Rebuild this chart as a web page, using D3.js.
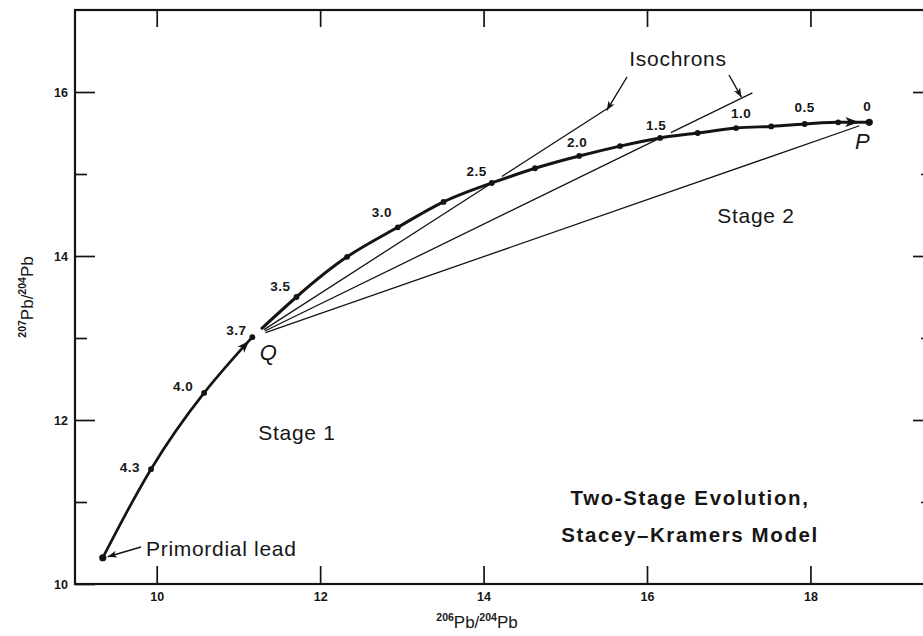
<!DOCTYPE html>
<html>
<head>
<meta charset="utf-8">
<script src="https://cdn.jsdelivr.net/npm/d3@7"></script>
<style>
  body { margin: 0; background: #fff; }
  svg { display: block; }
  text { font-family: "Liberation Sans", Arial, Helvetica, sans-serif; fill: #161616; }
</style>
</head>
<body>
<svg id="chart" width="923" height="636"></svg>
<script>
// Stage 1 growth curve: primordial lead (4.57 Ga) to Q (3.7 Ga)
const stage1Ages  = [4.57, 4.3, 4.0, 3.7];
const stage1Pb206 = [9.34, 9.93, 10.58, 11.17];
const stage1Pb207 = [10.32, 11.40, 12.33, 13.01];

// Stage 2 growth curve: Q (3.7 Ga) to present-day lead P (0 Ga)
const stage2Ages  = [3.7, 3.5, 3.25, 3.0, 2.75, 2.5, 2.25, 2.0, 1.75, 1.5, 1.25, 1.0, 0.75, 0.5, 0.25, 0];
const stage2Pb206 = [11.17, 11.71, 12.33, 12.95, 13.51, 14.10, 14.63, 15.17, 15.67, 16.16, 16.62, 17.09, 17.52, 17.93, 18.34, 18.72];
const stage2Pb207 = [13.01, 13.50, 13.99, 14.35, 14.66, 14.89, 15.07, 15.22, 15.34, 15.44, 15.50, 15.56, 15.58, 15.61, 15.63, 15.63];

// Ages written next to the curve (Ga)
const ageLabels = ["4.3", "4.0", "3.7", "3.5", "3.0", "2.5", "2.0", "1.5", "1.0", "0.5", "0"];

// Isochrons drawn from Q through the curve point of the given age, ending at the given 206Pb/204Pb
const isochronAges   = [2.5, 1.5, 0];
const isochronEnd206 = [15.52, 17.29, 18.60];

// Axis ticks
const xTicks      = [10, 12, 14, 16, 18];
const yTicks      = [10, 12, 14, 16];
const yMinorTicks = [11, 13, 15];

// ---------------------------------------------------------------
const svg = d3.select("#chart");
const ink = "#141414";

const x = d3.scaleLinear().domain([9, 19.5]).range([75, 933]);
const y = d3.scaleLinear().domain([10, 17]).range([584, 10]);

const pts1 = stage1Ages.map((a, i) => ({ age: a, x: stage1Pb206[i], y: stage1Pb207[i] }));
const pts2 = stage2Ages.map((a, i) => ({ age: a, x: stage2Pb206[i], y: stage2Pb207[i] }));
const allPts = pts1.concat(pts2.slice(1));
const findPt = age => allPts.find(p => Math.abs(p.age - age) < 1e-9);
const Q = pts2[0], P = pts2[pts2.length - 1], prim = pts1[0];

// Arrowhead markers
const defs = svg.append("defs");
function arrowMarker(id, len, half, back) {
  defs.append("marker")
    .attr("id", id)
    .attr("markerUnits", "userSpaceOnUse")
    .attr("viewBox", `0 ${-half} ${len} ${2 * half}`)
    .attr("markerWidth", len).attr("markerHeight", 2 * half)
    .attr("refX", len + back).attr("refY", 0)
    .attr("orient", "auto")
    .style("overflow", "visible")
    .append("path")
    .attr("d", `M0,${-half} L${len},0 L0,${half} L${len * 0.25},0 Z`)
    .attr("fill", ink);
}
arrowMarker("headQ", 12, 4.5, 5);
arrowMarker("headP", 14, 5, 10);
arrowMarker("headSmall", 9, 3.5, 0);

// Frame
svg.append("rect")
  .attr("x", x(9)).attr("y", y(17))
  .attr("width", x(19.5) - x(9)).attr("height", y(10) - y(17))
  .attr("fill", "none").attr("stroke", ink).attr("stroke-width", 2.2);

function styleAxis(g) {
  g.select(".domain").remove();
  g.selectAll(".tick line").attr("stroke", ink).attr("stroke-width", 1.7);
  g.selectAll(".tick text")
    .attr("fill", ink)
    .style("font-size", "12.5px").style("font-weight", "bold");
}

// Bottom and top ticks
svg.append("g").attr("transform", `translate(0,${y(10)})`)
  .call(d3.axisBottom(x).tickValues(xTicks).tickSize(-18).tickPadding(8).tickFormat(d3.format("d")))
  .call(styleAxis);
svg.append("g").attr("transform", `translate(0,${y(17)})`)
  .call(d3.axisTop(x).tickValues(xTicks).tickSize(-17).tickFormat(""))
  .call(styleAxis);

// Left and right ticks
svg.append("g").attr("transform", `translate(${x(9)},0)`)
  .call(d3.axisLeft(y).tickValues(yTicks).tickSize(-20).tickPadding(7).tickFormat(d3.format("d")))
  .call(styleAxis);
svg.append("g").attr("transform", `translate(${x(9)},0)`)
  .call(d3.axisLeft(y).tickValues(yMinorTicks).tickSize(-12).tickFormat(""))
  .call(styleAxis);
svg.append("g").attr("transform", `translate(${x(19.5)},0)`)
  .call(d3.axisRight(y).tickValues(yTicks.slice(1)).tickSize(-20).tickFormat(""))
  .call(styleAxis);
svg.append("g").attr("transform", `translate(${x(19.5)},0)`)
  .call(d3.axisRight(y).tickValues(yMinorTicks).tickSize(-12).tickFormat(""))
  .call(styleAxis);

// Axis titles with isotope superscripts
function isoTitle(sel, a, b) {
  sel.append("tspan").text(a).attr("dy", "-7").style("font-size", "10.5px").style("font-weight", "bold");
  sel.append("tspan").text("Pb/").attr("dy", "7").style("font-size", "17px");
  sel.append("tspan").text(b).attr("dy", "-7").style("font-size", "10.5px").style("font-weight", "bold");
  sel.append("tspan").text("Pb").attr("dy", "7").style("font-size", "17px");
}
svg.append("text")
  .attr("x", 477).attr("y", 628).attr("text-anchor", "middle")
  .call(isoTitle, "206", "204");
svg.append("text")
  .attr("transform", `translate(33,${(y(10) + y(17)) / 2}) rotate(-90)`)
  .attr("text-anchor", "middle")
  .call(isoTitle, "207", "204");

// Isochrons
const isoEnds = [];
isochronAges.forEach((age, i) => {
  const A = findPt(age);
  const t = (isochronEnd206[i] - Q.x) / (A.x - Q.x);
  const x0 = x(Q.x), y0 = y(Q.y);
  const x1 = x(Q.x + (A.x - Q.x) * t), y1 = y(Q.y + (A.y - Q.y) * t);
  const dA = Math.hypot(x(A.x) - x0, y(A.y) - y0);
  const startGap = 14;
  const dash = t > 1 ? [0, startGap, dA - startGap + 2, 10, 3000] : [0, startGap, 3000];
  svg.append("line")
    .attr("x1", x0).attr("y1", y0).attr("x2", x1).attr("y2", y1)
    .attr("stroke", ink).attr("stroke-width", 1.3)
    .attr("stroke-dasharray", dash.join(","));
  isoEnds.push({ x: x1, y: y1, slope: (y1 - y0) / (x1 - x0) });
});

// Growth curves
const curve = d3.line().x(d => x(d.x)).y(d => y(d.y)).curve(d3.curveNatural);
svg.append("path")
  .attr("d", curve(pts1))
  .attr("fill", "none").attr("stroke", ink).attr("stroke-width", 2.7)
  .attr("marker-end", "url(#headQ)");
svg.append("path")
  .attr("d", curve(pts2))
  .attr("fill", "none").attr("stroke", ink).attr("stroke-width", 3)
  .attr("stroke-dasharray", "0,12,5000")
  .attr("marker-end", "url(#headP)");

// Age dots
svg.append("g").selectAll("circle")
  .data(allPts)
  .join("circle")
  .attr("cx", d => x(d.x)).attr("cy", d => y(d.y))
  .attr("r", d => (d === Q || d === P || d === prim) ? 3.6 : 2.9)
  .attr("fill", ink);

// Age labels
const labelOffset = {
  "4.3": [-21, 3], "4.0": [-21, -2], "3.7": [-16, -2], "3.5": [-16, -6],
  "3.0": [-16, -10], "2.5": [-15, -7], "2.0": [-2, -9], "1.5": [-4, -8],
  "1.0": [5, -10], "0.5": [0, -12], "0": [-2, -11]
};
svg.append("g").selectAll("text")
  .data(ageLabels)
  .join("text")
  .attr("x", d => x(findPt(+d).x) + labelOffset[d][0])
  .attr("y", d => y(findPt(+d).y) + labelOffset[d][1])
  .attr("text-anchor", "middle")
  .style("font-size", "13.5px").style("font-weight", "bold").style("letter-spacing", "0.5px")
  .text(d => d);

// Point names
svg.append("text").attr("x", x(Q.x) + 16).attr("y", y(Q.y) + 23)
  .attr("text-anchor", "middle").style("font-size", "22px").style("font-style", "italic").text("Q");
svg.append("text").attr("x", x(P.x) - 7).attr("y", y(P.y) + 27)
  .attr("text-anchor", "middle").style("font-size", "22px").style("font-style", "italic").text("P");

// Region and annotation labels
const big = sel => sel.style("font-size", "21px").style("letter-spacing", "0.7px");
svg.append("text").attr("x", 297).attr("y", 440).attr("text-anchor", "middle").call(big).text("Stage 1");
svg.append("text").attr("x", 756).attr("y", 223).attr("text-anchor", "middle").call(big).text("Stage 2");
svg.append("text").attr("x", 146).attr("y", 556).call(big).text("Primordial lead");
svg.append("text").attr("x", 678).attr("y", 66).attr("text-anchor", "middle").call(big).text("Isochrons");

svg.append("text").attr("x", 690).attr("y", 505).attr("text-anchor", "middle")
  .style("font-size", "20.5px").style("font-weight", "bold").style("letter-spacing", "1.6px")
  .text("Two-Stage Evolution,");
svg.append("text").attr("x", 690).attr("y", 542).attr("text-anchor", "middle")
  .style("font-size", "20.5px").style("font-weight", "bold").style("letter-spacing", "1.6px")
  .text("Stacey\u2013Kramers Model");

// Pointer arrows
function pointer(x0, y0, x1, y1) {
  svg.append("line")
    .attr("x1", x0).attr("y1", y0).attr("x2", x1).attr("y2", y1)
    .attr("stroke", ink).attr("stroke-width", 1.4)
    .attr("marker-end", "url(#headSmall)");
}
pointer(627, 77, isoEnds[0].x - 1, isoEnds[0].y + 2);
pointer(729, 75, isoEnds[1].x - 11, isoEnds[1].y - 11 * isoEnds[1].slope - 1);
pointer(141, 547, x(prim.x) + 5, y(prim.y) - 1);
</script>
</body>
</html>
